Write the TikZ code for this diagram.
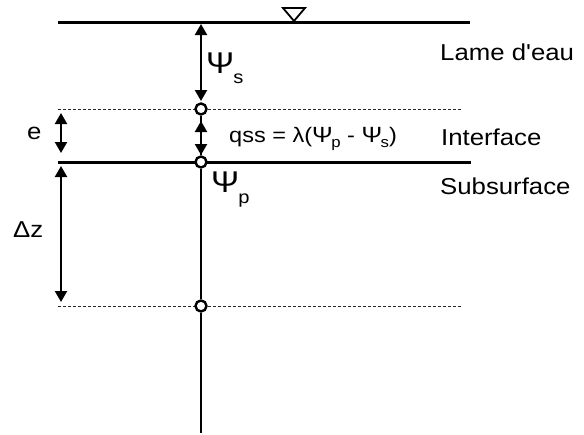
\documentclass[tikz,border=0pt]{standalone}
\usepackage{fontspec}
\setmainfont{Liberation Sans}
\newfontfamily\labf[FakeStretch=1.12]{Liberation Sans}
\usetikzlibrary{arrows.meta}
\begin{document}
\begin{tikzpicture}[x=1pt,y=-1pt,
  thickline/.style={line width=3pt},
  dashline/.style={line width=1pt, dash pattern=on 3pt off 2pt, black!85},
  stemline/.style={line width=2pt},
  dimarrow/.style={line width=2.2pt, {Triangle[length=11pt,width=12pt]}-{Triangle[length=11pt,width=12pt]}},
  port/.style={circle, draw, line width=2.4pt, fill=white, minimum size=11pt, inner sep=0pt},
  lbl/.style={inner sep=0pt, anchor=base west, font=\labf\fontsize{23}{27}\selectfont},
  psi/.style={inner sep=0pt, anchor=base west, font=\labf\fontsize{30}{30}\selectfont},
]
\useasboundingbox (0,0) rectangle (584,434);

% horizontal levels
\coordinate (topL) at (58,22);  \coordinate (topR) at (470,22);
\coordinate (ifL) at (58,109);  \coordinate (ifR) at (462,109);
\coordinate (ssL) at (58,162);  \coordinate (ssR) at (471,162);
\coordinate (bdL) at (58,306);  \coordinate (bdR) at (462,306);
\coordinate (stemEnd) at (201,433);

\draw[thickline] (topL) -- (topR);
\draw[dashline] (ifL) -- (ifR);
\draw[thickline] (ssL) -- (ssR);
\draw[dashline] (bdL) -- (bdR);

% water table symbol
\coordinate (wA) at (283,8); \coordinate (wB) at (305,8); \coordinate (wC) at (294,21);
\draw[line width=1.8pt, line join=miter] (wA) -- (wB) -- (wC) -- cycle;

% vertical stem and nodes
\node[port] (c1) at (201,109) {};
\node[port] (c2) at (201,162) {};
\node[port] (c3) at (201,306) {};
\draw[stemline] (c1.south) -- (c2.north);
\draw[stemline] (c2.south) -- (c3.north);
\draw[stemline] (c3.south) -- (stemEnd);

% dimension arrows
\coordinate (psA) at (201,24);  \coordinate (psB) at (201,101);
\coordinate (qA) at (201,121);  \coordinate (qB) at (201,155);
\coordinate (eA) at (61,113);   \coordinate (eB) at (61,153);
\coordinate (dA) at (61,166);   \coordinate (dB) at (61,302);
\draw[dimarrow] (psA) -- (psB);
\draw[dimarrow] (qA) -- (qB);
\draw[dimarrow] (eA) -- (eB);
\draw[dimarrow] (dA) -- (dB);

% labels
\node[psi] (psis) at (206,73) {Ψ\kern-1pt\raisebox{-10pt}{\fontsize{18}{18}\selectfont s}};
\node[psi] (psip) at (211,192) {Ψ\kern-1pt\raisebox{-11pt}{\fontsize{18}{18}\selectfont p}};
\node[lbl] (lame) at (440,60) {Lame d'eau};
\node[lbl] (inter) at (441,145) {Interface};
\node[lbl] (subs) at (440,194) {Subsurface};
\node[lbl] (elab) at (27,139) {e};
\node[lbl] (dz) at (13,237) {Δz};
\node[inner sep=0pt, anchor=base west, font=\labf\fontsize{21}{25}\selectfont] (qss) at (229,142)
  {qss = λ({\fontsize{22}{22}\selectfont Ψ}\kern-1.5pt\raisebox{-5pt}{\fontsize{15}{15}\selectfont p} - {\fontsize{22}{22}\selectfont Ψ}\kern-1.5pt\raisebox{-5pt}{\fontsize{15}{15}\selectfont s})};
\end{tikzpicture}
\end{document}
